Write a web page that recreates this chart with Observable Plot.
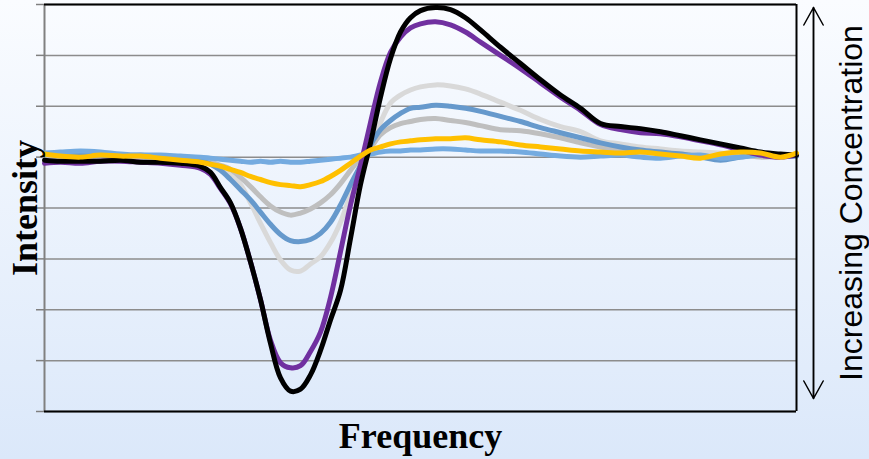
<!DOCTYPE html>
<html>
<head>
<meta charset="utf-8">
<script src="https://cdn.jsdelivr.net/npm/d3@7"></script>
<script src="https://cdn.jsdelivr.net/npm/@observablehq/plot@0.6"></script>
<style>
  html, body { margin: 0; padding: 0; }
  body { width: 869px; height: 459px; overflow: hidden; background: linear-gradient(#fafcff, #dbe8fa); }
</style>
</head>
<body>
<div id="chart"></div>
<script>
// Frequency sample positions (arbitrary units) shared by every spectrum
const freq = [0,16,36,56,76,96,116,136,156,
  166,176,186,196,206,216,226,236,246,256,266,276,286,296,306,316,326,336,346,356,366,376,
  391,406,421,436,
  456,476,496,516,536,556,576,596,616,636,656,676,696,716,736,
  752];

// Intensity of each spectrum, lowest to highest concentration
const lightBlue = [4,5,6,5,3,2,2,1,0,
  -1,-2,-3,-4,-5,-4,-5,-4,-5,-5,-4,-3,-2,-1,0,2,3,5,6,6,7,7,
  8,8,7,6,
  6,5,3,1,0,1,2,0,-1,1,2,-1,0,2,1,
  1];
const yellow = [3,1,0,2,1,1,-1,-3,-5,
  -7,-9,-12,-15,-19,-22,-25,-27,-28,-29,-27,-24,-19,-13,-6,1,7,10,13,15,16,17,
  18,18,19,17,
  15,12,10,8,6,5,4,5,3,1,-1,3,5,4,0,
  4];
const gray = [1,1,0,0,0,0,0,-1,-3,
  -5,-8,-12,-20,-29,-39,-48,-54,-57,-55,-51,-45,-37,-26,-13,-1,9,22,29,33,35,37,
  38,36,34,31,
  27,26,23,19,14,10,7,5,4,3,1,0,2,0,1,
  2];
const steelBlue = [3,3,2,2,1,2,1,0,-3,
  -7,-13,-22,-32,-42,-54,-66,-76,-82,-83,-81,-75,-64,-47,-27,-8,12,27,36,43,48,49,
  51,50,48,45,
  40,35,29,24,19,14,10,7,5,3,0,-3,0,3,2,
  1];
const lightGray = [1,1,1,0,1,0,0,-1,-3,
  -6,-11,-18,-27,-45,-65,-84,-101,-111,-112,-105,-98,-84,-64,-37,-13,7,34,53,61,66,69,
  71,70,67,62,
  54,46,37,30,25,16,13,10,8,6,5,4,3,1,1,
  1];
const purple = [-6,-5,-6,-4,-4,-5,-6,-8,-11,
  -17,-31,-46,-70,-103,-140,-180,-202,-207,-205,-191,-172,-138,-93,-47,-8,34,74,103,118,127,131,
  133,130,123,113,
  100,87,73,59,46,32,27,24,23,20,16,12,7,2,0,
  2];
const black = [-3,-4,-4,-4,-3,-5,-5,-6,-9,
  -15,-30,-45,-70,-103,-140,-183,-217,-230,-228,-214,-190,-160,-131,-80,-27,14,59,97,123,137,144,
  147,145,137,125,
  108,92,76,61,48,33,30,28,25,21,17,13,9,5,3,
  2];

// Drawing order (bottom to top) and colours
const seriesNames  = ["lightGray", "gray", "steelBlue", "lightBlue", "purple", "black", "yellow"];
const seriesValues = [lightGray, gray, steelBlue, lightBlue, purple, black, yellow];
const seriesColors = ["#d9d9d9", "#bfbfbf", "#6699cc", "#74abe0", "#7030a0", "#000000", "#ffc000"];

const yTicks = [-250, -200, -150, -100, -50, 0, 50, 100, 150];
const xLabel = ["Frequency"];
const yLabel = ["Intensity"];
const sideLabel = ["Increasing Concentration"];

const xMin = d3.min(freq), xMax = d3.max(freq);
const yMin = d3.min(yTicks), yMax = d3.max(yTicks);

const lines = seriesNames.map((name, k) =>
  Plot.lineY(freq.map((f, i) => ({frequency: f, intensity: seriesValues[k][i], series: name})), {
    x: "frequency", y: "intensity", stroke: seriesColors[k], strokeWidth: 5,
    curve: "catmull-rom", strokeLinejoin: "round"
  })
);

const chart = Plot.plot({
  width: 869, height: 459,
  marginLeft: 44, marginRight: 73, marginTop: 4, marginBottom: 48,
  style: {background: "transparent", overflow: "visible"},
  x: {domain: [xMin, xMax], axis: null},
  y: {domain: [yMin, yMax], axis: null},
  marks: [
    Plot.gridY({ticks: yTicks, stroke: "#8c8c8c", strokeOpacity: 1, strokeWidth: 1.5}),
    Plot.axisY({ticks: yTicks, tickSize: 8, tickFormat: () => "", stroke: "#808080", strokeWidth: 1.5, label: null}),
    Plot.ruleX([xMin], {stroke: "#808080", strokeWidth: 2}),
    ...lines,
    Plot.ruleY([yMax], {stroke: "#000", strokeWidth: 2}),
    Plot.ruleY([yMin], {stroke: "#000", strokeWidth: 2}),
    Plot.ruleX([xMax], {stroke: "#000", strokeWidth: 2}),
    // double-headed concentration arrow to the right of the frame
    Plot.arrow([0], {x1: xMax, x2: xMax, y1: yMin, y2: yMax, dx: 17, insetStart: 13, insetEnd: 3,
      stroke: "#000", strokeWidth: 1.5, headLength: 20, headAngle: 58}),
    Plot.arrow([0], {x1: xMax, x2: xMax, y1: yMax, y2: yMin, dx: 17, insetStart: 3, insetEnd: 13,
      stroke: "#000", strokeWidth: 1.5, headLength: 20, headAngle: 58}),
    Plot.text(xLabel, {frameAnchor: "bottom", dy: 36, lineAnchor: "bottom", textAnchor: "middle",
      fontFamily: "Liberation Serif", fontWeight: "bold", fontSize: 36, fill: "#000"}),
    Plot.text(yLabel, {frameAnchor: "left", dx: -8, rotate: -90, lineAnchor: "bottom", textAnchor: "middle",
      fontFamily: "Liberation Serif", fontWeight: "bold", fontSize: 36, fill: "#000"}),
    Plot.text(sideLabel, {frameAnchor: "right", dx: 65, dy: -5, rotate: -90, lineAnchor: "bottom", textAnchor: "middle",
      fontFamily: "Liberation Sans", fontSize: 32, fill: "#000"})
  ]
});
document.getElementById("chart").append(chart);
</script>
</body>
</html>
